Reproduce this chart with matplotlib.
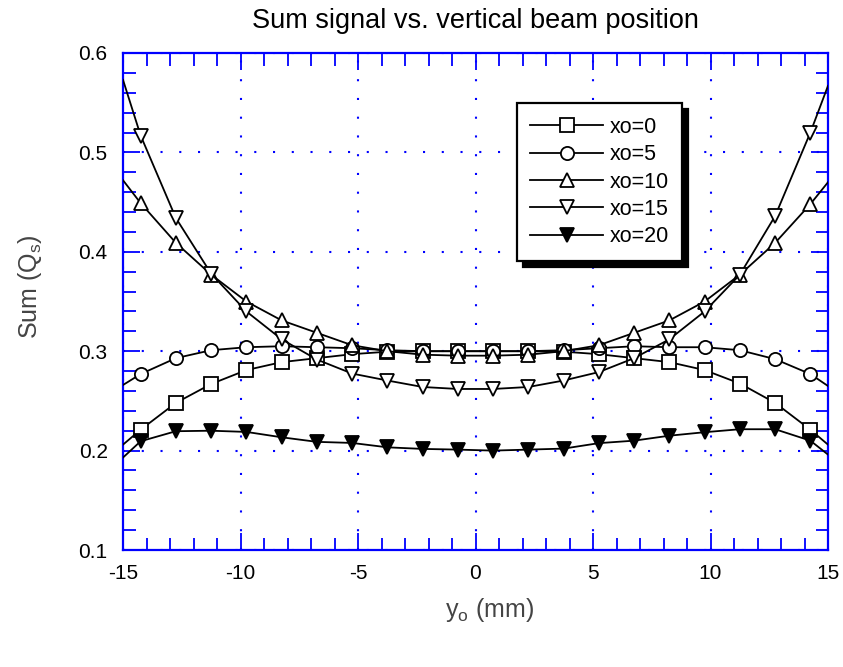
import matplotlib
matplotlib.use("Agg")

import matplotlib.pyplot as plt
from matplotlib.ticker import MultipleLocator, FormatStrFormatter


plt.rcParams["font.family"] = ["Liberation Sans", "DejaVu Sans"]
plt.rcParams["axes.unicode_minus"] = False

# beam position y0 (mm); line ends at +-15, symbols every 1.5 mm
y_pos = [-15, -14.25, -12.75, -11.25, -9.75, -8.25, -6.75, -5.25, -3.75, -2.25, -0.75,
         0.75, 2.25, 3.75, 5.25, 6.75, 8.25, 9.75, 11.25, 12.75, 14.25, 15]

sum_xo0 = [0.206, 0.221, 0.248, 0.267, 0.281, 0.289, 0.293, 0.297, 0.2995, 0.300, 0.300,
           0.300, 0.300, 0.2995, 0.297, 0.293, 0.289, 0.281, 0.2675, 0.248, 0.221, 0.206]
sum_xo5 = [0.266, 0.277, 0.293, 0.301, 0.304, 0.305, 0.304, 0.303, 0.301, 0.300, 0.300,
           0.300, 0.300, 0.301, 0.303, 0.305, 0.304, 0.304, 0.301, 0.292, 0.277, 0.265]
sum_xo10 = [0.472, 0.449, 0.409, 0.377, 0.350, 0.331, 0.3185, 0.306, 0.300, 0.2965, 0.2955,
            0.2955, 0.2965, 0.300, 0.306, 0.3185, 0.331, 0.350, 0.377, 0.409, 0.448, 0.470]
sum_xo15 = [0.573, 0.517, 0.434, 0.378, 0.340, 0.312, 0.2916, 0.2775, 0.2705, 0.264, 0.262,
            0.262, 0.264, 0.2705, 0.279, 0.293, 0.312, 0.340, 0.377, 0.436, 0.520, 0.567]
sum_xo20 = [0.193, 0.2094, 0.2195, 0.220, 0.2188, 0.2134, 0.2088, 0.2077, 0.2033, 0.2017, 0.201,
            0.200, 0.201, 0.202, 0.2075, 0.210, 0.215, 0.2185, 0.2215, 0.2215, 0.210, 0.196]

series = [
    ("xo=0", sum_xo0, "s", "white", 10),
    ("xo=5", sum_xo5, "o", "white", 9.5),
    ("xo=10", sum_xo10, "^", "white", 9.5),
    ("xo=15", sum_xo15, "v", "white", 9.5),
    ("xo=20", sum_xo20, "v", "black", 9.5),
]

fig = plt.figure(figsize=(8.43, 6.67), dpi=100)
ax = fig.add_axes([123 / 843, 1 - 550 / 667, 705 / 843, 497 / 667])

for label, values, marker, face, size in series:
    ax.plot(y_pos, values, color="black", lw=1.3,
            marker=marker, markersize=size, markerfacecolor=face,
            markeredgecolor="black", markeredgewidth=1.3,
            markevery=slice(1, len(y_pos) - 1), label=label, zorder=3)

ax.set_xlim(-15, 15)
ax.set_ylim(0.1, 0.6)
ax.xaxis.set_major_locator(MultipleLocator(5))
ax.xaxis.set_minor_locator(MultipleLocator(1))
ax.yaxis.set_major_locator(MultipleLocator(0.1))
ax.yaxis.set_minor_locator(MultipleLocator(0.02))
ax.xaxis.set_major_formatter(FormatStrFormatter("%d"))
ax.yaxis.set_major_formatter(FormatStrFormatter("%.1f"))

for sp in ax.spines.values():
    sp.set_color("blue")
    sp.set_linewidth(1.6)

ax.tick_params(which="both", direction="in", top=True, right=True,
               color="blue", width=1.3, labelcolor="black", labelsize=15)
ax.tick_params(which="major", length=12)
ax.tick_params(which="minor", length=9)
ax.tick_params(axis="x", pad=10)
ax.tick_params(axis="y", pad=11)

ax.grid(True, which="major", color="blue", lw=1.5, linestyle=(0, (1, 8)), zorder=1)

ax.set_title("Sum signal vs. vertical beam position", fontsize=19.5, pad=18)

ax.set_xlabel(r"y$_\mathregular{o}$ (mm)", fontsize=18, color="#444444", va="center")
ax.xaxis.set_label_coords(0.52, -0.121)
ax.set_ylabel(r"Sum (Q$_\mathregular{s}$)", fontsize=18, color="#444444", va="center")
ax.yaxis.set_label_coords(-0.132, 0.529)

leg = ax.legend(loc="upper left", bbox_to_anchor=(0.5585, 0.8988), borderaxespad=0,
                fontsize=15.5, frameon=True, fancybox=False, numpoints=1,
                handlelength=3.4, handletextpad=0.3, borderpad=0.62, labelspacing=0.3,
                shadow={"ox": 4.2, "oy": -4.2, "color": "black", "alpha": 1})
leg.get_frame().set_edgecolor("black")
leg.get_frame().set_linewidth(1.6)
leg.get_frame().set_alpha(1)

fig.savefig("out.png", dpi=100)
